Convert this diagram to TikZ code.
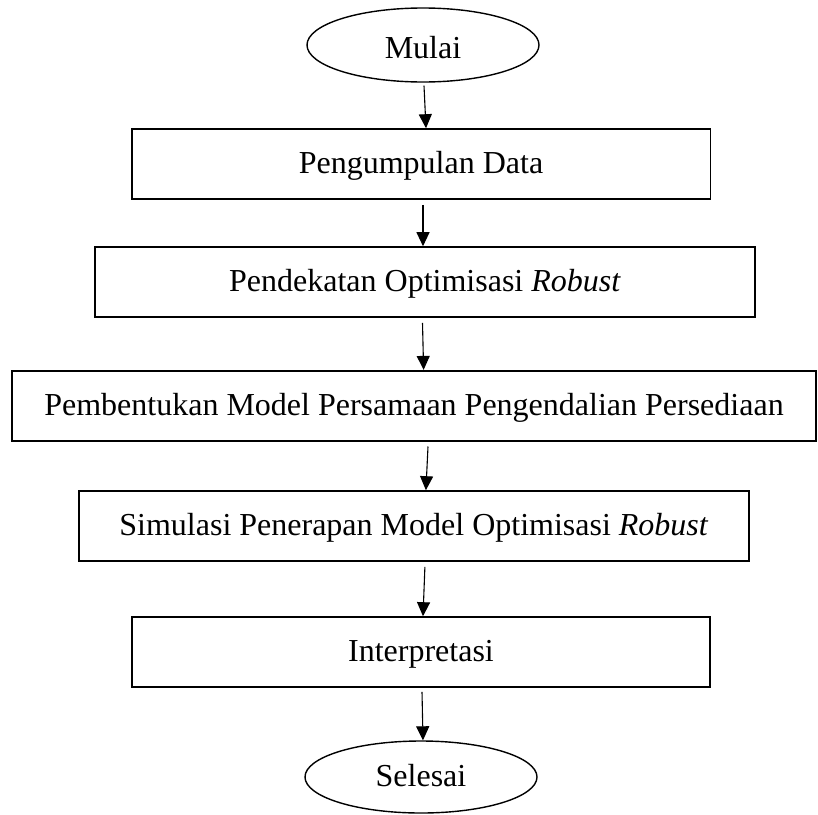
\documentclass[tikz,border=0pt]{standalone}
\usepackage{fontspec}
\setmainfont{Liberation Serif}
\usetikzlibrary{arrows.meta,shapes.geometric}
\begin{document}
\begin{tikzpicture}[x=1pt,y=-1pt,
  lbl/.style={font=\fontsize{32}{36}\selectfont,text height=25.2pt,text depth=5.7pt},
  box/.style={lbl,draw,line width=1.6pt,rectangle,inner sep=0pt,minimum height=70pt},
  term/.style={lbl,draw,line width=1.4pt,ellipse,inner sep=0pt},
  arr/.style={line width=1.1pt,-{Triangle[length=14pt,width=13pt]}}]
\useasboundingbox (0,0) rectangle (818,814);
\fill[white] (0,0) rectangle (818,814);
\node[term,minimum width=232pt,minimum height=74pt,text height=31.6pt,text depth=5pt] (mulai) at (423,45) {Mulai};
\node[box,minimum width=578.6pt] (p1) at (421,164) {Pengumpulan Data};
\node[box,minimum width=660pt] (p2) at (425,282) {Pendekatan Optimisasi \textit{Robust}};
\node[box,minimum width=804pt] (p3) at (414,405.7) {Pembentukan Model Persamaan Pengendalian Persediaan};
\node[box,minimum width=670.3pt] (p4) at (413.9,526) {Simulasi Penerapan Model Optimisasi \textit{Robust}};
\node[box,minimum width=578pt] (p5) at (421,652) {Interpretasi};
\node[term,minimum width=232pt,minimum height=72pt] (selesai) at (421,777) {Selesai};
\draw[arr] ([xshift=1pt,yshift=-3pt]mulai.south) -- ([xshift=5pt]p1.north);
\draw[arr] ([xshift=2pt,yshift=-5pt]p1.south) -- ([xshift=-2pt]p2.north);
\draw[arr] ([xshift=-2.5pt,yshift=-5pt]p2.south) -- ([xshift=9.6pt]p3.north);
\draw[arr] ([xshift=14pt,yshift=-5pt]p3.south) -- ([xshift=12pt]p4.north);
\draw[arr] ([xshift=11pt,yshift=-5pt]p4.south) -- ([xshift=2pt]p5.north);
\draw[arr] ([xshift=1pt,yshift=-4pt]p5.south) -- ([xshift=2pt]selesai.north);
\end{tikzpicture}
\end{document}
